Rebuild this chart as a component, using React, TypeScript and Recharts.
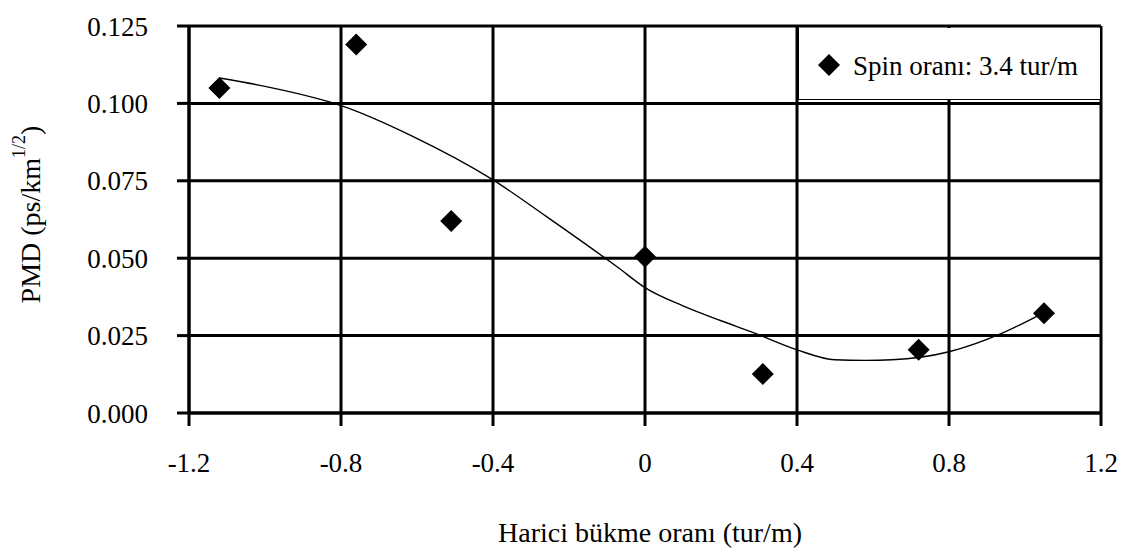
import React from "react";
import {
  ComposedChart, Scatter, Line, XAxis, YAxis, CartesianGrid, Legend
} from "recharts";

const pointX = [-1.12, -0.76, -0.51, 0, 0.31, 0.72, 1.05];
const pointY = [0.105, 0.119, 0.062, 0.0505, 0.0126, 0.0204, 0.0322];

// trend line
const curveX = [-1.12, -1.0, -0.84, -0.8, -0.61, -0.4, -0.26, -0.07, 0, 0.1, 0.2, 0.28, 0.4, 0.5, 0.58, 0.65, 0.8, 0.94, 1.04];
const curveY = [0.1082, 0.1055, 0.1008, 0.0993, 0.0893, 0.0753, 0.0635, 0.0469, 0.0405, 0.0346, 0.0298, 0.0262, 0.0204, 0.0172, 0.017, 0.0172, 0.0198, 0.0258, 0.0318];

const xTicks = [-1.2, -0.8, -0.4, 0, 0.4, 0.8, 1.2];
const yTicks = [0, 0.025, 0.05, 0.075, 0.1, 0.125];

const seriesName = "Spin oranı: 3.4 tur/m";
const xTitle = "Harici bükme oranı (tur/m)";

const points = pointX.map((x, i) => ({ x, y: pointY[i] }));
const curve = curveX.map((x, i) => ({ x, y: curveY[i] }));

const FONT = "'Liberation Serif', 'Times New Roman', serif";

const Diamond = (props: any) => {
  const { cx, cy } = props;
  const r = 11;
  return <path d={`M${cx} ${cy - r} L${cx + r} ${cy} L${cx} ${cy + r} L${cx - r} ${cy} Z`} fill="#000" />;
};

const XTitle = (props: any) => {
  const vb = props.viewBox || {};
  return (
    <text x={vb.x + vb.width / 2 + 5} y={vb.y + 129} textAnchor="middle" fontFamily={FONT} fontSize={28} fill="#000">
      {xTitle}
    </text>
  );
};

const YTitle = (props: any) => {
  const vb = props.viewBox || {};
  const cx = 22;
  const cy = vb.y + vb.height / 2 - 5;
  return (
    <text
      x={cx}
      y={cy}
      transform={`rotate(-90, ${cx}, ${cy})`}
      textAnchor="middle"
      dominantBaseline="central"
      fontFamily={FONT}
      fontSize={28}
      fill="#000"
    >
      PMD (ps/km
      <tspan dy={-11} fontSize={18}>1/2</tspan>
      <tspan dy={11}>)</tspan>
    </text>
  );
};

const LegendBox = () => (
  <div
    style={{
      width: 302, height: 72, background: "#fff", boxSizing: "border-box",
      borderLeft: "1.5px solid #000", borderBottom: "1.5px solid #000",
    }}
  >
    <svg width={300} height={70} style={{ display: "block" }}>
      <path d="M30 26 L41 37 L30 48 L19 37 Z" fill="#000" />
      <text x={54} y={47} fontFamily={FONT} fontSize={27} fill="#000">{seriesName}</text>
    </svg>
  </div>
);

export default function App() {
  return (
    <ComposedChart width={1140} height={544} margin={{ top: 18, right: 47, left: 61, bottom: 79 }}>
      <CartesianGrid stroke="#000" strokeWidth={3} />
      <XAxis
        dataKey="x"
        type="number"
        domain={[-1.2, 1.2]}
        ticks={xTicks}
        tickFormatter={(v) => (v === 0 ? "0" : v.toFixed(1))}
        axisLine={{ stroke: "#000", strokeWidth: 3 }}
        tickLine={{ stroke: "#000", strokeWidth: 3 }}
        tickSize={13}
        tickMargin={27}
        height={60}
        tick={{ fontFamily: FONT, fontSize: 27, fill: "#000" }}
        label={<XTitle />}
      />
      <YAxis
        dataKey="y"
        type="number"
        domain={[0, 0.125]}
        ticks={yTicks}
        tickFormatter={(v) => v.toFixed(3)}
        axisLine={{ stroke: "#000", strokeWidth: 3 }}
        tickLine={{ stroke: "#000", strokeWidth: 3 }}
        tickSize={12}
        tickMargin={29}
        width={120}
        tick={{ fontFamily: FONT, fontSize: 27, fill: "#000" }}
        label={<YTitle />}
      />
      <Legend
        layout="vertical"
        align="center"
        verticalAlign="middle"
        content={<LegendBox />}
        wrapperStyle={{ left: 790, top: 20, width: 302, height: 72 }}
      />
      <Line
        data={curve}
        dataKey="y"
        type="monotone"
        stroke="#000"
        strokeWidth={1.4}
        dot={false}
        activeDot={false}
        legendType="none"
        isAnimationActive={false}
      />
      <Scatter
        data={points}
        dataKey="y"
        name={seriesName}
        shape={<Diamond />}
        isAnimationActive={false}
      />
    </ComposedChart>
  );
}
